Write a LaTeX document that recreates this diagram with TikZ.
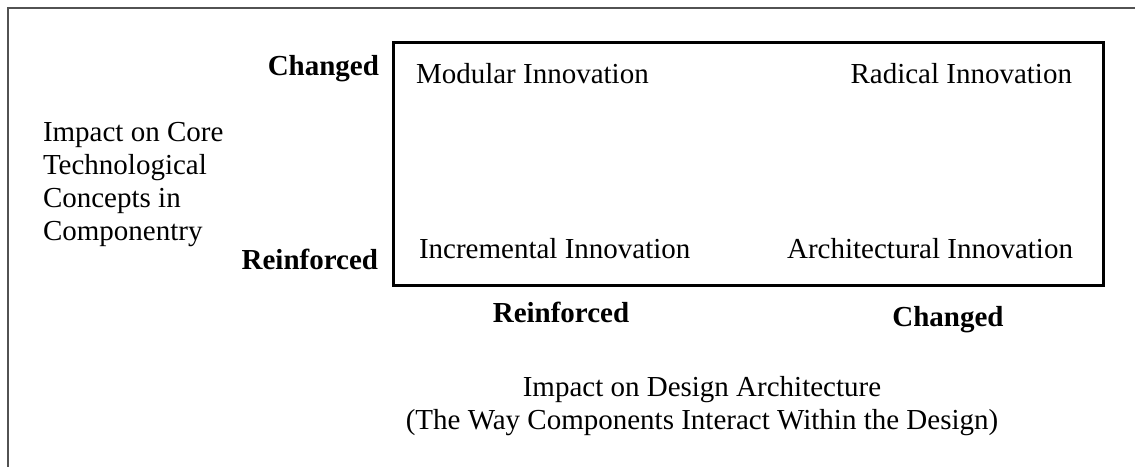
\documentclass[tikz,border=0pt]{standalone}
\usepackage{fontspec}
\setmainfont{Liberation Serif}
\begin{document}
\begin{tikzpicture}[x=1pt,y=-1pt,
  every node/.style={inner sep=0pt, outer sep=0pt},
  txt/.style={font=\fontsize{29}{33}\selectfont},
  bld/.style={font=\fontsize{29}{33}\selectfont\bfseries},
  frame/.style={draw=black!68, line width=2pt},
  quad/.style={draw=black, line width=3pt, minimum width=710pt, minimum height=243pt}]
\useasboundingbox (0,0) rectangle (1135,466);
\draw[frame] (8,467) -- (8,8) -- (1136,8);
\node[quad] (box) at (748,163.5) {};
% quadrant labels
\node[txt, anchor=base west] (mod) at (416,83) {Modular Innovation};
\node[txt, anchor=base east] (rad) at (1072,83) {Radical Innovation};
\node[txt, anchor=base west] (inc) at (419,258) {Incremental Innovation};
\node[txt, anchor=base east] (arc) at (1073,258) {Architectural Innovation};
% vertical axis
\node[bld, anchor=base east] (vchg) at (379,75) {Changed};
\node[bld, anchor=base east] (vrei) at (378,269) {Reinforced};
\node[txt, anchor=base west, align=left] (vax) at (43,240) {Impact on Core\\Technological\\Concepts in\\Componentry};
% horizontal axis
\node[bld, anchor=base] (hrei) at (561,322) {Reinforced};
\node[bld, anchor=base] (hchg) at (948,326) {Changed};
\node[txt, anchor=base, align=center] (hax) at (702,429) {Impact on Design Architecture\\(The Way Components Interact Within the Design)};
\end{tikzpicture}
\end{document}
